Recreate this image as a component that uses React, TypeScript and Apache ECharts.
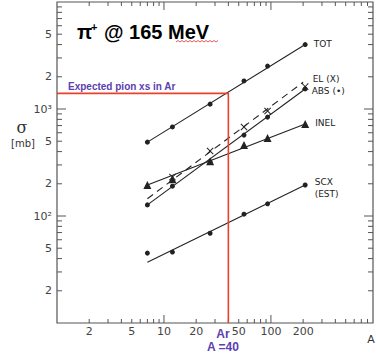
import React, { useEffect, useRef } from "react";
import * as echarts from "echarts";

// ---- data ----
const massNumbers = [7, 12, 27, 56, 93, 209];
const totValues = [490, 680, 1110, 1830, 2520, 4000];
const absValues = [127, 190, 320, 570, 840, 1540];
const inelValues = [195, 220, 325, 460, 535, 724];
const elMass = [12, 27, 56, 93, 209];
const elValues = [231, 405, 679, 957, 1620];
const scxValues = [45, 46, 69, 104, 130, 195];

// straight-line fits drawn in the figure (endpoints: [A, sigma])
const totFit = [[7, 490], [209, 4000]];
const absFit = [[7, 127], [209, 1540]];
const inelFit = [[7, 195], [209, 724]];
const elFit = [[7, 145], [200, 1780]];
const scxFit = [[7, 37], [209, 195]];

// expected pion cross-section in Ar
const arMass = 40;
const arExpected = 1400;

// axes
const xMin = 1;
const xMax = 900;
const yMin = 10;
const yMax = 10000;
const xTickValues = [2, 3, 4, 5, 6, 7, 8, 9, 10, 20, 30, 40, 50, 60, 70, 80, 90, 100, 200, 300, 400, 500, 600, 700, 800];
const xMajorTicks = [10, 100];
const xTickLabels = ["2", "", "", "5", "", "", "", "", "10", "20", "", "", "50", "", "", "", "", "100", "200", "", "", "", "", "", ""];
const yTickValues = [20, 30, 40, 50, 60, 70, 80, 90, 100, 200, 300, 400, 500, 600, 700, 800, 900, 1000, 2000, 3000, 4000, 5000, 6000, 7000, 8000, 9000];
const yMajorTicks = [100, 1000];
const yTickLabels = ["2", "", "", "5", "", "", "", "", "10²", "2", "", "", "5", "", "", "", "", "10³", "2", "", "", "5", "", "", "", ""];

const AXIS = "#555";
const INK = "#222";
const PURPLE = "#5b40b0";
const RED = "#e8402a";
const CROSS = "path://M1,0 L5,4 L9,0 L10,1 L6,5 L10,9 L9,10 L5,6 L1,10 L0,9 L4,5 L0,1 Z";

export default function App() {
  const ref = useRef<HTMLDivElement>(null);
  useEffect(() => {
    if (!ref.current) return;
    const chart = echarts.init(ref.current, null, { renderer: "svg" });

    const lineSeries = (data: number[][], dashed = false) => ({
      type: "line",
      data,
      symbol: "none",
      silent: true,
      lineStyle: { color: INK, width: 1.1, type: dashed ? [7, 5] : "solid" },
      z: 3,
    });

    const labelStyle = { fontFamily: "DejaVu Sans", fontSize: 9, color: INK };

    const pts = (xs: number[], ys: number[], symbol: string, size: number, lastLabel: any) => ({
      type: "scatter",
      symbol,
      symbolSize: size,
      itemStyle: { color: INK, opacity: 1 },
      z: 4,
      data: xs.map((x, i) =>
        i === xs.length - 1 && lastLabel
          ? { value: [x, ys[i]], label: { show: true, position: "right", ...labelStyle, ...lastLabel } }
          : [x, ys[i]]
      ),
    });

    const wave: number[][] = [];
    for (let x = 176; x <= 218; x += 2) wave.push([x, (x - 176) % 4 === 0 ? 42 : 40.5]);

    chart.setOption({
      animation: false,
      backgroundColor: "#fff",
      grid: { left: 57, top: 2, width: 316, height: 321, show: true, borderColor: AXIS, borderWidth: 1.2 },
      xAxis: {
        type: "log", min: xMin, max: xMax, logBase: 10,
        axisLine: { show: false }, axisTick: { show: false }, axisLabel: { show: false }, splitLine: { show: false },
      },
      yAxis: {
        type: "log", min: yMin, max: yMax, logBase: 10,
        axisLine: { show: false }, axisTick: { show: false }, axisLabel: { show: false }, splitLine: { show: false },
      },
      series: [
        // x ticks + labels
        {
          type: "custom", silent: true, clip: false, z: 2,
          data: xTickValues.map((v) => [v, yMin]),
          encode: { x: 0, y: 1 },
          renderItem: (params: any, api: any) => {
            const v = xTickValues[params.dataIndex];
            const b = api.coord([v, yMin]);
            const t = api.coord([v, yMax]);
            const len = xMajorTicks.includes(v) ? 8 : 4;
            const st = { stroke: AXIS, lineWidth: 1 };
            const children: any[] = [
              { type: "line", shape: { x1: b[0], y1: b[1], x2: b[0], y2: b[1] - len }, style: st },
              { type: "line", shape: { x1: t[0], y1: t[1], x2: t[0], y2: t[1] + len }, style: st },
            ];
            const lab = xTickLabels[params.dataIndex];
            if (lab) {
              children.push({
                type: "text", x: b[0], y: b[1] + 3,
                style: { text: lab, align: "center", verticalAlign: "top", fontFamily: "DejaVu Sans", fontSize: 11, fill: "#444" },
              });
            }
            return { type: "group", children };
          },
        },
        // y ticks + labels
        {
          type: "custom", silent: true, clip: false, z: 2,
          data: yTickValues.map((v) => [xMin, v]),
          encode: { x: 0, y: 1 },
          renderItem: (params: any, api: any) => {
            const v = yTickValues[params.dataIndex];
            const l = api.coord([xMin, v]);
            const r = api.coord([xMax, v]);
            const len = yMajorTicks.includes(v) ? 9 : 5;
            const st = { stroke: AXIS, lineWidth: 1 };
            const children: any[] = [
              { type: "line", shape: { x1: l[0], y1: l[1], x2: l[0] + len, y2: l[1] }, style: st },
              { type: "line", shape: { x1: r[0], y1: r[1], x2: r[0] - len, y2: r[1] }, style: st },
            ];
            const lab = yTickLabels[params.dataIndex];
            if (lab) {
              children.push({
                type: "text", x: l[0] - 5, y: l[1],
                style: { text: lab, align: "right", verticalAlign: "middle", fontFamily: "DejaVu Sans", fontSize: 11, fill: "#444" },
              });
            }
            return { type: "group", children };
          },
        },
        // expected cross-section guide
        {
          type: "line", silent: true, symbol: "none", z: 5,
          data: [[xMin, arExpected], [arMass, arExpected], [arMass, yMin]],
          lineStyle: { color: RED, width: 1.6 },
        },
        lineSeries(totFit),
        lineSeries(absFit),
        lineSeries(inelFit),
        lineSeries(elFit, true),
        lineSeries(scxFit),
        pts(massNumbers, totValues, "circle", 5, { formatter: "TOT", offset: [1, -1] }),
        pts(massNumbers, absValues, "circle", 5, { formatter: "ABS (•)", offset: [-1, 2] }),
        pts(massNumbers, inelValues, "triangle", 8, { formatter: "INEL", offset: [1, -1] }),
        pts(elMass, elValues, CROSS, 7, { formatter: "EL (X)", offset: [-1, -8] }),
        pts(massNumbers, scxValues, "circle", 5, { formatter: "SCX\n(EST)", lineHeight: 12, offset: [2, 3] }),
      ],
      graphic: [
        { type: "text", x: 77, y: 31.5, style: { text: "π", fontFamily: "Liberation Sans", fontWeight: "bold", fontSize: 20, fill: "#000", verticalAlign: "middle" } },
        { type: "text", x: 91, y: 27, style: { text: "+", fontFamily: "Liberation Sans", fontWeight: "bold", fontSize: 11, fill: "#000", verticalAlign: "middle" } },
        { type: "text", x: 104, y: 31.5, style: { text: "@ 165 MeV", fontFamily: "Liberation Sans", fontWeight: "bold", fontSize: 20, fill: "#000", verticalAlign: "middle" } },
        { type: "polyline", shape: { points: wave }, style: { stroke: "#e03030", lineWidth: 0.8, fill: "none" } },
        { type: "text", x: 68, y: 86, style: { text: "Expected pion xs in Ar", fontFamily: "Liberation Sans", fontWeight: "bold", fontSize: 10, fill: PURPLE, verticalAlign: "middle" } },
        { type: "text", x: 223, y: 334, style: { text: "Ar", fontFamily: "Liberation Sans", fontWeight: "bold", fontSize: 12, fill: PURPLE, align: "center", verticalAlign: "middle" } },
        { type: "text", x: 223, y: 347, style: { text: "A =40", fontFamily: "Liberation Sans", fontWeight: "bold", fontSize: 12, fill: PURPLE, align: "center", verticalAlign: "middle" } },
        { type: "text", x: 371, y: 339, style: { text: "A", fontFamily: "DejaVu Sans", fontSize: 11, fill: "#333", align: "center", verticalAlign: "middle" } },
        { type: "text", x: 22, y: 127, style: { text: "σ", fontFamily: "DejaVu Serif", fontSize: 16, fill: "#333", align: "center", verticalAlign: "middle" } },
        { type: "text", x: 23, y: 143, style: { text: "[mb]", fontFamily: "DejaVu Sans", fontSize: 10, fill: "#333", align: "center", verticalAlign: "middle" } },
      ],
    });
    return () => chart.dispose();
  }, []);
  return <div ref={ref} style={{ width: 377, height: 356, position: "absolute", left: 0, top: 0 }} />;
}
